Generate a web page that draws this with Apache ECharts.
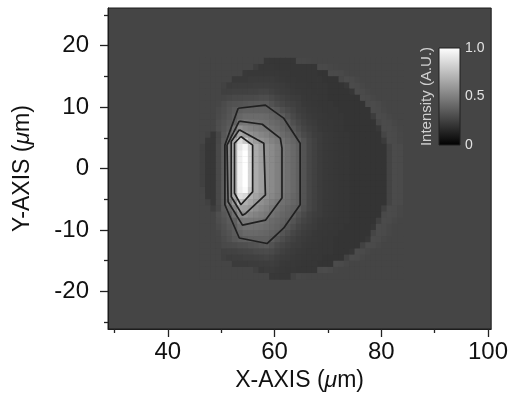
<!DOCTYPE html>
<html>
<head>
<meta charset="utf-8">
<script src="https://cdn.jsdelivr.net/npm/echarts@6.0.0/dist/echarts.min.js"></script>
<style>
  html, body { margin: 0; padding: 0; background: #ffffff; }
  #chart { width: 511px; height: 403px; }
</style>
</head>
<body>
<div id="chart"></div>
<script>
// ---- data ----
// cell centres (µm)
const colX = [46.5,47.5,48.5,49.5,50.5,51.5,52.5,53.5,54.5,55.5,56.5,57.5,58.5,59.5,60.5,61.5,62.5,63.5,64.5,65.5,66.5,67.5,68.5,69.5,70.5,71.5,72.5,73.5,74.5,75.5,76.5,77.5,78.5,79.5,80.5,81.5,82.5,83.5];
const rowY = [17.5,16.5,15.5,14.5,13.5,12.5,11.5,10.5,9.5,8.5,7.5,6.5,5.5,4.5,3.5,2.5,1.5,0.5,-0.5,-1.5,-2.5,-3.5,-4.5,-5.5,-6.5,-7.5,-8.5,-9.5,-10.5,-11.5,-12.5,-13.5,-14.5,-15.5,-16.5,-17.5];
// intensity in percent, one row per rowY entry, one column per colX entry
const intensityPct = [
 [27,27,27,27,27,27,27,27,27,27,27,27,21.5,21,21,21,21,21,28,28,27.5,27,27,27,27,27,27,27,27,27,27,27,27,27,27,27,27,27],
 [27,27,27,27,27,27,27,27,27,27,24,21.5,21.5,21.5,21,21,21,21,21,21,21,21,28.5,28.5,28,27.5,27,27,27,27,27,27,27,27,27,27,27,27],
 [27,27,27,27,27,27,27,27,22.5,22,22,22,22,22,22,21.5,21.5,21,21,21,21,21,20.5,20.5,29,29,28.5,27.5,27,27,27,27,27,27,27,27,27,27],
 [27,27,27,27,27,27,22.5,22.5,22.5,23,23,23,23,23,22.5,22,21.5,21.5,21,21,21,21,21,20.5,20.5,20.5,28,29.5,29,28,27,27,27,27,27,27,27,27],
 [27,27,27,27,26,23.5,24,24,24,24,24.5,24.5,24.5,24,23.5,23,22.5,22,21.5,21.5,21,21,21,21,20.5,20.5,20.5,22,29.5,29,28,27,27,27,27,27,27,27],
 [27,27,27,27,25,25,25.5,25.5,25.5,26,26,26.5,26.5,25.5,24.5,23.5,23,22.5,22,21.5,21.5,21,21,21,20.5,20.5,20.5,20.5,21.5,29.5,29,28,27,27,27,27,27,27],
 [27,27,27,27,27,28,28.5,28.5,29,29,29.5,30,30,28.5,26.5,25.5,24.5,23.5,23,22,21.5,21.5,21,21,20.5,20.5,20.5,20.5,20.5,20.5,29.5,29,28,27,27,27,27,27],
 [27,27,27,27.5,29.5,31.5,32,32.5,33.5,34,34.5,35,35,32,29.5,27.5,26,25,24,22.5,22,21.5,21,21,21,20.5,20.5,20.5,20.5,20.5,20.5,29,29.5,28.5,27.5,27,27,27],
 [27,27,27,28.5,30,32.5,35,37,38,38,38,38,37.5,36.5,34,31,28.5,26.5,24.5,23.5,22.5,22,21.5,21,21,21,20.5,20.5,20.5,20.5,20.5,20.5,29.5,29,28,27,27,27],
 [27,27,27,29,31,33.5,36.5,40,42,42,42,42,41,39.5,37.5,36,32,28.5,26,24.5,23,22.5,22,21.5,21,21,21,20.5,20.5,20.5,20.5,20.5,24,29.5,29,28,27,27],
 [27,27,27,30,32,34.5,38,46,47,45.5,45,44,43,41.5,40,38,35.5,31,28,25.5,24,23,22,21.5,21.5,21,21,20.5,20.5,20.5,20.5,20.5,20.5,28,29.5,29,28,27],
 [27,27,27,30.5,33,36,45,57,53,51,49.5,48,46.5,44,42,39.5,37,34,30,27,25,24,22.5,22,21.5,21,21,20.5,20.5,20.5,20.5,20.5,20.5,22,29.5,29.5,28.5,27.5],
 [27,26,21.5,27.5,34,40,53,66,61,57,54.5,52,50,47.5,45,42,39.5,37.5,33,29,26.5,24.5,23.5,22.5,22,21.5,21,21,20.5,20.5,20.5,20.5,20.5,20.5,27,29.5,29,28],
 [27,22,21.5,28,35.5,46,65,86,78,66,61,57,54,51,48,45,42,39.5,37,32,28,25.5,23.5,22.5,22,21.5,21,21,20.5,20.5,20.5,20.5,20.5,20.5,23,29.5,29,28],
 [25,21.5,21.5,28.5,36.5,52,70,90,96,82,67,62,57,54,50,47,44,41,38,32.5,28,25.5,23.5,22.5,22,21.5,21,21,20.5,20.5,20.5,20.5,20.5,20.5,20.5,26.5,29.5,29],
 [25,21.5,21.5,28.5,36.5,52,70,94,100,84,67,62,57,54,50,47,44,41,38,32.5,28,25.5,23.5,22.5,22,21.5,21,21,20.5,20.5,20.5,20.5,20.5,20.5,20.5,26.5,29.5,29],
 [25,21.5,21.5,28.5,36.5,52,70,94,100,84,67,62,57,54,50,47,44,41,38,32.5,28,25.5,23.5,22.5,22,21.5,21,21,20.5,20.5,20.5,20.5,20.5,20.5,20.5,26.5,29.5,29],
 [25,21.5,21.5,28.5,36.5,52,70,94,100,84,67,62,57,54,50,47,44,41,38,32.5,28,25.5,23.5,22.5,22,21.5,21,21,20.5,20.5,20.5,20.5,20.5,20.5,20.5,26.5,29.5,29],
 [25,21.5,21.5,28.5,36.5,52,70,94,100,84,67,62,57,54,50,47,44,41,38,32.5,28,25.5,23.5,22.5,22,21.5,21,21,20.5,20.5,20.5,20.5,20.5,20.5,20.5,26.5,29.5,29],
 [25,21.5,21.5,28.5,36.5,52,70,94,100,84,67,62,57,54,50,47,44,41,38,32.5,28,25.5,23.5,22.5,22,21.5,21,21,20.5,20.5,20.5,20.5,20.5,20.5,20.5,26.5,29.5,29],
 [25,21.5,21.5,28.5,36.5,52,70,94,100,84,67,62,57,54,50,47,44,41,38,32.5,28,25.5,23.5,22.5,22,21.5,21,21,20.5,20.5,20.5,20.5,20.5,20.5,20.5,26.5,29.5,29],
 [26.5,21.5,21.5,28.5,36.5,52,70,93,98,80,67,62,57,54,50,47,44,41,38,32.5,28,25.5,23.5,22.5,22,21.5,21,21,20.5,20.5,20.5,20.5,20.5,20.5,20.5,26.5,29.5,29],
 [27,21.5,21.5,28.5,36.5,52,66,88,85,68.5,64,60,56.5,53,49.5,46,43,40,37.5,32.5,28,25.5,23.5,22.5,22,21.5,21,21,20.5,20.5,20.5,20.5,20.5,20.5,20.5,26.5,29.5,29],
 [27,25.5,21.5,28.5,36.5,47,58,76,68.5,64.5,60.5,56.5,53.5,50,47,44,42,39.5,37.5,32.5,28,25.5,23.5,22.5,22,21.5,21,21,20.5,20.5,20.5,20.5,20.5,20.5,20.5,26.5,29.5,29],
 [27,27,24,28,35.5,41,50,63,62,59.5,56,53,50,47,44.5,42,39.5,37.5,36,31.5,28,25.5,23.5,22.5,22,21.5,21,21,20.5,20.5,20.5,20.5,20.5,20.5,25,29.5,29,28],
 [27,27,27,31,34,37,43.5,54,56,53,51,49,47,45,42.5,40,38.5,36.5,32,28.5,26,24.5,23.5,22.5,22,21.5,21,21,20.5,20.5,20.5,20.5,20.5,20.5,28.5,29.5,29,28],
 [27,27,27,30,32.5,35.5,37.5,46,47,47,46.5,46,43.5,41.5,40,38.5,36.5,33,29.5,26.5,25,23.5,22.5,22,21.5,21,21,21,20.5,20.5,20.5,20.5,20.5,25,29.5,29,28,27],
 [27,27,27,29,31.5,34,36,42,44.5,44.5,44,43,42,40.5,39,37,33.5,30,27,25,24,23,22,21.5,21.5,21,21,20.5,20.5,20.5,20.5,20.5,21.5,29.5,29,28,27,27],
 [27,27,27,28,30.5,32.5,35.5,39,41,41,41,40.5,39.5,38.5,37,33.5,30.5,27.5,25.5,24,23,22,21.5,21.5,21,21,20.5,20.5,20.5,20.5,20.5,20.5,27,29.5,29,28,27,27],
 [27,27,27,27.5,29.5,31.5,34,36,37,37.5,37.5,37.5,37.5,36.5,33,30,27.5,25.5,24,23,22.5,22,21.5,21,21,20.5,20.5,20.5,20.5,20.5,20.5,22,29.5,29,28,27,27,27],
 [27,27,27,27,28.5,29,29.5,30.5,31,32,33,34,35,32,29,27,25.5,24,23.5,22.5,22,21.5,21,21,21,20.5,20.5,20.5,20.5,20.5,26,29.5,29,28,27,27,27,27],
 [27,27,27,27,25.5,26,26,26.5,27,27.5,28.5,29,29.5,28.5,26.5,25,24,23,22.5,22,21.5,21.5,21,21,21,20.5,20.5,20.5,21.5,29.5,29,28,27,27,27,27,27,27],
 [27,27,27,27,25,24,24.5,24.5,25,25,25.5,26,26.5,26,24.5,23.5,23,22.5,22,21.5,21.5,21,21,20.5,20.5,20.5,20.5,26,29.5,29,28,27,27,27,27,27,27,27],
 [27,27,27,27,27,27,23,23,23,23.5,23.5,24,24,24.5,23.5,22.5,22,22,21.5,21,21,21,20.5,20.5,20.5,29.5,29,28,27,27,27,27,27,27,27,27,27,27],
 [27,27,27,27,27,27,27,27,27,27,25,22.5,23,23,22.5,22,21.5,21.5,21,21,21,21,29,29.5,28.5,27.5,27,27,27,27,27,27,27,27,27,27,27,27],
 [27,27,27,27,27,27,27,27,27,27,27,27,27,22,22,21.5,21.5,26,28,27.5,27,27,27,27,27,27,27,27,27,27,27,27,27,27,27,27,27,27]
];
// contour lines (µm), closed polygons
const contour1 = [[53.2,9.8],[58.3,10.3],[61.7,8.2],[64.8,4.1],[64.8,-5.9],[61.7,-9.7],[58.6,-12.2],[53.4,-11.3],[50.7,-5.9],[50.7,3.8],[53.2,9.8]];
const contour2 = [[53.4,7.7],[57.7,7.2],[61.1,4.9],[61.4,3.3],[61.4,-4.8],[58.3,-8.4],[54.0,-9.2],[51.3,-5.4],[51.1,3.8],[53.4,7.7]];
const contour3 = [[53.4,6.3],[58.0,4.1],[58.3,3.8],[58.3,-4.3],[54.6,-7.3],[54.0,-7.6],[51.9,-4.6],[51.9,4.4],[53.4,6.3]];
const contour4 = [[53.7,5.2],[55.9,3.8],[55.9,-3.8],[53.7,-5.9],[52.5,-4.0],[52.5,4.1],[53.7,5.2]];
// ticks
const xMajorTicks = [40, 60, 80, 100];
const xMinorTicks = [30, 50, 70, 90];
const yMajorTicks = [-20, -10, 0, 10, 20];
const yMinorTicks = [-25, -15, -5, 5, 15, 25];
const barTicks = [0, 0.5, 1];

// ---- build ----
const cells = [];
for (let r = 0; r < rowY.length; r++) {
  for (let c = 0; c < colX.length; c++) {
    cells.push([colX[c], rowY[r], intensityPct[r][c] / 100]);
  }
}
const FONT = '"Liberation Sans", Arial, Helvetica, sans-serif';
const bgGray = '#454545';
const chart = echarts.init(document.getElementById('chart'), null, { renderer: 'canvas' });

const nameRich = {
  a: { fontSize: 23, color: '#111', fontFamily: FONT },
  b: { fontSize: 23, color: '#111', fontFamily: FONT, fontStyle: 'italic' }
};
const contourStyle = { color: '#202020', width: 1.7 };
function contourSeries(d) {
  return { type: 'line', xAxisIndex: 0, yAxisIndex: 0, data: d, symbol: 'none', showSymbol: false,
           lineStyle: contourStyle, z: 5, silent: true, animation: false };
}

chart.setOption({
  animation: false,
  backgroundColor: '#ffffff',
  grid: [
    { left: 108, right: 14, top: 8, bottom: 74, show: true, backgroundColor: bgGray,
      borderColor: '#1c1c1c', borderWidth: 1, containLabel: false },
    { left: 439, top: 48, width: 21, height: 97, show: true,
      backgroundColor: { type: 'linear', x: 0, y: 0, x2: 0, y2: 1,
        colorStops: [{ offset: 0, color: '#ffffff' }, { offset: 1, color: '#000000' }] },
      borderColor: '#202020', borderWidth: 1 }
  ],
  xAxis: [
    { type: 'value', gridIndex: 0, min: 28.8, max: 100.6, position: 'bottom',
      axisLine: { show: true, onZero: false, lineStyle: { color: '#1c1c1c', width: 1 } },
      axisTick: { show: true, length: 8, customValues: xMajorTicks, lineStyle: { color: '#222', width: 1.3 } },
      axisLabel: { customValues: xMajorTicks, fontSize: 24, color: '#111', fontFamily: FONT, margin: 11 },
      splitLine: { show: false },
      name: '{a|X-AXIS (}{b|μ}{a|m)}', nameLocation: 'middle', nameGap: 29,
      nameTextStyle: { rich: nameRich } },
    { type: 'value', gridIndex: 0, min: 28.8, max: 100.6, position: 'bottom', offset: 0,
      axisLine: { show: false, onZero: false },
      axisTick: { show: true, length: 4, customValues: xMinorTicks, lineStyle: { color: '#222', width: 1.3 } },
      axisLabel: { show: false }, splitLine: { show: false } },
    { type: 'value', gridIndex: 1, min: 0, max: 1, show: false }
  ],
  yAxis: [
    { type: 'value', gridIndex: 0, min: -26.1, max: 26.1, position: 'left',
      axisLine: { show: true, onZero: false, lineStyle: { color: '#1c1c1c', width: 1 } },
      axisTick: { show: true, length: 8, customValues: yMajorTicks, lineStyle: { color: '#222', width: 1.3 } },
      axisLabel: { customValues: yMajorTicks, fontSize: 24, color: '#111', fontFamily: FONT, margin: 19 },
      splitLine: { show: false },
      name: '{a|Y-AXIS (}{b|μ}{a|m)}', nameLocation: 'middle', nameRotate: 90, nameGap: 74,
      nameTextStyle: { rich: nameRich } },
    { type: 'value', gridIndex: 0, min: -26.1, max: 26.1, position: 'left', offset: 0,
      axisLine: { show: false, onZero: false },
      axisTick: { show: true, length: 4, customValues: yMinorTicks, lineStyle: { color: '#222', width: 1.3 } },
      axisLabel: { show: false }, splitLine: { show: false } },
    { type: 'value', gridIndex: 1, min: 0, max: 1, position: 'right',
      axisLine: { show: false }, axisTick: { show: false }, splitLine: { show: false },
      axisLabel: { customValues: barTicks, fontSize: 14, color: '#e2e2e2', fontFamily: FONT, margin: 5,
        formatter: v => (v === 1 ? '1.0' : String(v)) } },
    { type: 'value', gridIndex: 1, min: 0, max: 1, position: 'left',
      axisLine: { show: false }, axisTick: { show: false }, splitLine: { show: false },
      axisLabel: { show: false },
      name: 'Intensity (A.U.)', nameLocation: 'middle', nameRotate: 90, nameGap: 5,
      nameTextStyle: { fontSize: 15, color: '#d0d0d0', fontFamily: FONT } }
  ],
  visualMap: {
    type: 'continuous', show: false, min: 0, max: 1, dimension: 2, seriesIndex: 0,
    inRange: { color: ['#000000', '#ffffff'] }
  },
  series: [
    { type: 'custom', coordinateSystem: 'cartesian2d', xAxisIndex: 0, yAxisIndex: 0,
      data: cells, encode: { x: 0, y: 1 }, clip: true, silent: true, z: 2,
      renderItem: function (params, api) {
        const x = api.value(0), y = api.value(1);
        const p0 = api.coord([x - 0.5, y + 0.5]);
        const p1 = api.coord([x + 0.5, y - 0.5]);
        return { type: 'rect',
          shape: { x: p0[0], y: p0[1], width: p1[0] - p0[0] + 0.5, height: p1[1] - p0[1] + 0.5 },
          style: { fill: api.visual('color') } };
      } },
    contourSeries(contour1),
    contourSeries(contour2),
    contourSeries(contour3),
    contourSeries(contour4)
  ]
});
</script>
</body>
</html>
